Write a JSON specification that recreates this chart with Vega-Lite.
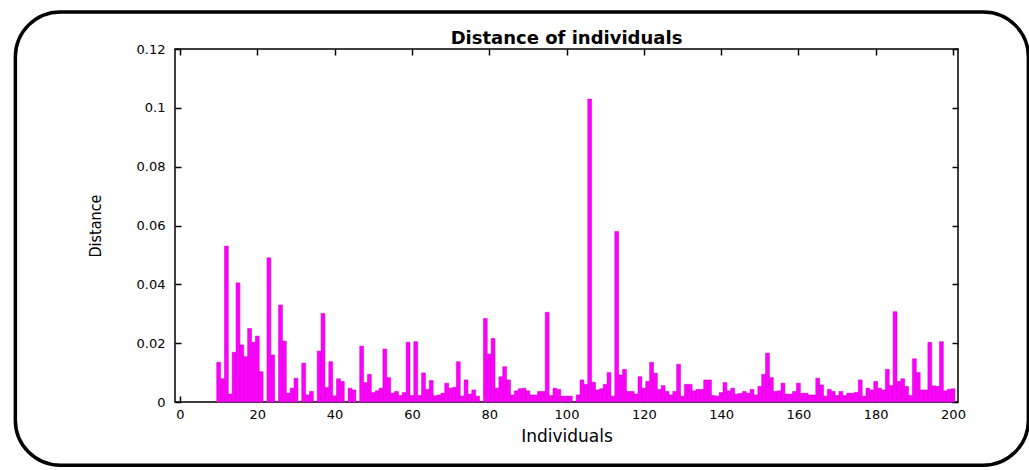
{
  "$schema": "https://vega.github.io/schema/vega-lite/v6.json",
  "width": 783,
  "height": 353,
  "autosize": {"type": "none"},
  "padding": {"left": 175, "top": 49, "right": 71, "bottom": 68},
  "background": "white",
  "config": {
    "view": {"stroke": "black", "strokeWidth": 1.5},
    "font": "DejaVu Sans"
  },
  "title": {
    "text": "Distance of individuals",
    "fontSize": 18,
    "fontWeight": "bold",
    "font": "DejaVu Sans",
    "color": "black",
    "offset": -38,
    "anchor": "middle"
  },
  "datasets": {
    "bars": [
      {"individual": 10, "distance": 0.0135}, {"individual": 11, "distance": 0.0079}, {"individual": 12, "distance": 0.053}, {"individual": 13, "distance": 0.0027}, {"individual": 14, "distance": 0.0169},
      {"individual": 15, "distance": 0.0405}, {"individual": 16, "distance": 0.0194}, {"individual": 17, "distance": 0.0154}, {"individual": 18, "distance": 0.025}, {"individual": 19, "distance": 0.0203},
      {"individual": 20, "distance": 0.0224}, {"individual": 21, "distance": 0.0103}, {"individual": 22, "distance": 0}, {"individual": 23, "distance": 0.049}, {"individual": 24, "distance": 0.016},
      {"individual": 25, "distance": 0}, {"individual": 26, "distance": 0.033}, {"individual": 27, "distance": 0.0207}, {"individual": 28, "distance": 0.003}, {"individual": 29, "distance": 0.0047},
      {"individual": 30, "distance": 0.0081}, {"individual": 31, "distance": 0}, {"individual": 32, "distance": 0.0132}, {"individual": 33, "distance": 0.0024}, {"individual": 34, "distance": 0.0036},
      {"individual": 35, "distance": 0}, {"individual": 36, "distance": 0.0173}, {"individual": 37, "distance": 0.0301}, {"individual": 38, "distance": 0.0049}, {"individual": 39, "distance": 0.0137},
      {"individual": 40, "distance": 0.0021}, {"individual": 41, "distance": 0.0079}, {"individual": 42, "distance": 0.007}, {"individual": 43, "distance": 0}, {"individual": 44, "distance": 0.0047},
      {"individual": 45, "distance": 0.0041}, {"individual": 46, "distance": 0}, {"individual": 47, "distance": 0.019}, {"individual": 48, "distance": 0.0066}, {"individual": 49, "distance": 0.0094},
      {"individual": 50, "distance": 0.0032}, {"individual": 51, "distance": 0.0038}, {"individual": 52, "distance": 0.0047}, {"individual": 53, "distance": 0.018}, {"individual": 54, "distance": 0.0083},
      {"individual": 55, "distance": 0.003}, {"individual": 56, "distance": 0.0036}, {"individual": 57, "distance": 0.0022}, {"individual": 58, "distance": 0.0032}, {"individual": 59, "distance": 0.0203},
      {"individual": 60, "distance": 0.0022}, {"individual": 61, "distance": 0.0205}, {"individual": 62, "distance": 0.0022}, {"individual": 63, "distance": 0.0099}, {"individual": 64, "distance": 0.0043},
      {"individual": 65, "distance": 0.0073}, {"individual": 66, "distance": 0.0021}, {"individual": 67, "distance": 0.0024}, {"individual": 68, "distance": 0.003}, {"individual": 69, "distance": 0.0064},
      {"individual": 70, "distance": 0.0047}, {"individual": 71, "distance": 0.005}, {"individual": 72, "distance": 0.0137}, {"individual": 73, "distance": 0.002}, {"individual": 74, "distance": 0.0075},
      {"individual": 75, "distance": 0.0027}, {"individual": 76, "distance": 0.0041}, {"individual": 77, "distance": 0.002}, {"individual": 78, "distance": 0}, {"individual": 79, "distance": 0.0284},
      {"individual": 80, "distance": 0.0163}, {"individual": 81, "distance": 0.0216}, {"individual": 82, "distance": 0.0047}, {"individual": 83, "distance": 0.0086}, {"individual": 84, "distance": 0.012},
      {"individual": 85, "distance": 0.0075}, {"individual": 86, "distance": 0.0024}, {"individual": 87, "distance": 0.0038}, {"individual": 88, "distance": 0.0045}, {"individual": 89, "distance": 0.0047},
      {"individual": 90, "distance": 0.0038}, {"individual": 91, "distance": 0.0024}, {"individual": 92, "distance": 0.0024}, {"individual": 93, "distance": 0.0036}, {"individual": 94, "distance": 0.0036},
      {"individual": 95, "distance": 0.0305}, {"individual": 96, "distance": 0.0022}, {"individual": 97, "distance": 0.0047}, {"individual": 98, "distance": 0.0043}, {"individual": 99, "distance": 0.002},
      {"individual": 100, "distance": 0.002}, {"individual": 101, "distance": 0.002}, {"individual": 102, "distance": 0}, {"individual": 103, "distance": 0.0024}, {"individual": 104, "distance": 0.0075},
      {"individual": 105, "distance": 0.006}, {"individual": 106, "distance": 0.103}, {"individual": 107, "distance": 0.0067}, {"individual": 108, "distance": 0.0041}, {"individual": 109, "distance": 0.0045},
      {"individual": 110, "distance": 0.006}, {"individual": 111, "distance": 0.01}, {"individual": 112, "distance": 0.002}, {"individual": 113, "distance": 0.058}, {"individual": 114, "distance": 0.0092},
      {"individual": 115, "distance": 0.0111}, {"individual": 116, "distance": 0.0036}, {"individual": 117, "distance": 0.0036}, {"individual": 118, "distance": 0.0027}, {"individual": 119, "distance": 0.0086},
      {"individual": 120, "distance": 0.0047}, {"individual": 121, "distance": 0.007}, {"individual": 122, "distance": 0.0135}, {"individual": 123, "distance": 0.0098}, {"individual": 124, "distance": 0.0043},
      {"individual": 125, "distance": 0.0056}, {"individual": 126, "distance": 0.0036}, {"individual": 127, "distance": 0.0024}, {"individual": 128, "distance": 0.0036}, {"individual": 129, "distance": 0.0128},
      {"individual": 130, "distance": 0.002}, {"individual": 131, "distance": 0.006}, {"individual": 132, "distance": 0.006}, {"individual": 133, "distance": 0.0038}, {"individual": 134, "distance": 0.0043},
      {"individual": 135, "distance": 0.0043}, {"individual": 136, "distance": 0.0075}, {"individual": 137, "distance": 0.0075}, {"individual": 138, "distance": 0.0022}, {"individual": 139, "distance": 0.002},
      {"individual": 140, "distance": 0.0032}, {"individual": 141, "distance": 0.0066}, {"individual": 142, "distance": 0.0038}, {"individual": 143, "distance": 0.0047}, {"individual": 144, "distance": 0.0027},
      {"individual": 145, "distance": 0.0029}, {"individual": 146, "distance": 0.0036}, {"individual": 147, "distance": 0.003}, {"individual": 148, "distance": 0.0043}, {"individual": 149, "distance": 0.0024},
      {"individual": 150, "distance": 0.0053}, {"individual": 151, "distance": 0.0094}, {"individual": 152, "distance": 0.0166}, {"individual": 153, "distance": 0.0083}, {"individual": 154, "distance": 0.0036},
      {"individual": 155, "distance": 0.0038}, {"individual": 156, "distance": 0.0064}, {"individual": 157, "distance": 0.0027}, {"individual": 158, "distance": 0.0027}, {"individual": 159, "distance": 0.0036},
      {"individual": 160, "distance": 0.0064}, {"individual": 161, "distance": 0.003}, {"individual": 162, "distance": 0.003}, {"individual": 163, "distance": 0.0024}, {"individual": 164, "distance": 0.0024},
      {"individual": 165, "distance": 0.0081}, {"individual": 166, "distance": 0.0058}, {"individual": 167, "distance": 0.002}, {"individual": 168, "distance": 0.0043}, {"individual": 169, "distance": 0.0036},
      {"individual": 170, "distance": 0.0022}, {"individual": 171, "distance": 0.0036}, {"individual": 172, "distance": 0.0022}, {"individual": 173, "distance": 0.003}, {"individual": 174, "distance": 0.003},
      {"individual": 175, "distance": 0.0033}, {"individual": 176, "distance": 0.0075}, {"individual": 177, "distance": 0.002}, {"individual": 178, "distance": 0.0047}, {"individual": 179, "distance": 0.0041},
      {"individual": 180, "distance": 0.007}, {"individual": 181, "distance": 0.0047}, {"individual": 182, "distance": 0.0041}, {"individual": 183, "distance": 0.0111}, {"individual": 184, "distance": 0.0056},
      {"individual": 185, "distance": 0.0307}, {"individual": 186, "distance": 0.007}, {"individual": 187, "distance": 0.0079}, {"individual": 188, "distance": 0.0053}, {"individual": 189, "distance": 0.0022},
      {"individual": 190, "distance": 0.0147}, {"individual": 191, "distance": 0.01}, {"individual": 192, "distance": 0.0041}, {"individual": 193, "distance": 0.0041}, {"individual": 194, "distance": 0.0203},
      {"individual": 195, "distance": 0.0055}, {"individual": 196, "distance": 0.0053}, {"individual": 197, "distance": 0.0205}, {"individual": 198, "distance": 0.0038}, {"individual": 199, "distance": 0.0043},
      {"individual": 200, "distance": 0.0045}
    ]
  },
  "resolve": {"axis": {"x": "independent", "y": "independent"}},
  "layer": [
    {
      "data": {"values": [{}]},
      "mark": {"type": "rect", "fill": "white", "fillOpacity": 0, "stroke": "black", "strokeWidth": 3.5, "cornerRadius": 45, "clip": false},
      "encoding": {
        "x": {"datum": -42.6, "type": "quantitative", "scale": {"domain": [0, 200], "nice": false, "zero": false}, "axis": null},
        "x2": {"datum": 219.5},
        "y": {"datum": -0.0215, "type": "quantitative", "scale": {"domain": [0, 0.12], "nice": false, "zero": false}, "axis": null},
        "y2": {"datum": 0.1326}
      }
    },
    {
      "data": {"name": "bars"},
      "mark": {"type": "bar", "size": 3.9, "color": "#ff00ff", "stroke": "#c400c4", "strokeWidth": 0.5},
      "encoding": {
        "x": {
          "field": "individual", "type": "quantitative",
          "scale": {"domain": [0, 200], "nice": false, "zero": false},
          "axis": {
            "orient": "bottom", "title": "Individuals", "values": [0, 20, 40, 60, 80, 100, 120, 140, 160, 180, 200],
            "domain": false, "grid": false, "tickSize": -6, "tickColor": "black", "tickWidth": 1.5,
            "labelPadding": 12, "labelFontSize": 13, "labelColor": "black", "labelFont": "DejaVu Sans",
            "titleFontSize": 17, "titleFontWeight": "normal", "titleColor": "black", "titleFont": "DejaVu Sans", "titlePadding": 7
          }
        },
        "y": {
          "field": "distance", "type": "quantitative",
          "scale": {"domain": [0, 0.12], "nice": false, "zero": false},
          "axis": {
            "orient": "left", "title": "Distance", "values": [0, 0.02, 0.04, 0.06, 0.08, 0.1, 0.12], "format": ".2~f",
            "domain": false, "grid": false, "tickSize": -6, "tickColor": "black", "tickWidth": 1.5,
            "labelPadding": 16, "labelFontSize": 13, "labelColor": "black", "labelFont": "DejaVu Sans",
            "titleFontSize": 16, "titleFontWeight": "normal", "titleColor": "black", "titleFont": "DejaVu Sans Condensed, Liberation Sans", "titlePadding": 33
          }
        }
      }
    },
    {
      "data": {"values": [{}]},
      "mark": {"type": "point", "opacity": 0},
      "encoding": {
        "x": {
          "datum": 100, "type": "quantitative",
          "axis": {"orient": "top", "title": null, "labels": false, "values": [0, 20, 40, 60, 80, 100, 120, 140, 160, 180, 200], "domain": false, "grid": false, "tickSize": -6, "tickColor": "black", "tickWidth": 1.5}
        },
        "y": {
          "datum": 0.06, "type": "quantitative",
          "axis": {"orient": "right", "title": null, "labels": false, "values": [0, 0.02, 0.04, 0.06, 0.08, 0.1, 0.12], "domain": false, "grid": false, "tickSize": -6, "tickColor": "black", "tickWidth": 1.5}
        }
      }
    }
  ]
}
